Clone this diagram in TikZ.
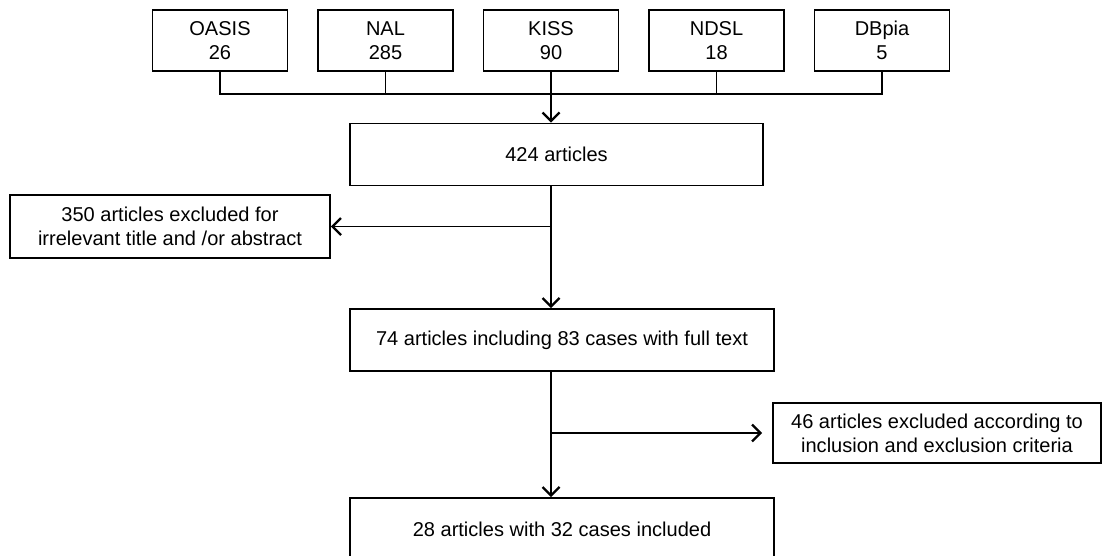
\documentclass[tikz,border=0pt]{standalone}
\usepackage{fontspec}
\setmainfont{Liberation Sans}
\usetikzlibrary{positioning,arrows.meta}

\begin{document}
\begin{tikzpicture}[
source/.style={draw, line width=1pt, minimum width=2.7cm, minimum height=1.22cm, align=center, inner sep=0pt},
stage/.style={draw, line width=1pt, minimum height=1.24cm, align=center, inner sep=0pt},
link/.style={line width=1pt},
arrow/.style={-{Straight Barb[length=1.7mm, width=3.4mm, line width=1.3pt]}, line width=1pt},
font=\fontsize{11.4}{13.5}\selectfont,
]
\useasboundingbox (0,0) rectangle (22.06,-11.1);
\clip (0,0) rectangle (22.06,-11.1);

\node[source] (oasis) at (4.40,-0.81) {OASIS\\26};
\node[source] (nal) [right=0.575cm of oasis] {NAL\\285};
\node[source] (kiss) [right=0.575cm of nal] {KISS\\90};
\node[source] (ndsl) [right=0.575cm of kiss] {NDSL\\18};
\node[source] (dbpia) [right=0.575cm of ndsl] {DBpia\\5};

\node[stage, minimum width=8.26cm] (total) at (11.13,-3.09) {424 articles};
\node[stage, minimum width=6.4cm, minimum height=1.26cm] (exclA) at (3.4,-4.53) {350 articles excluded for\\irrelevant title and /or abstract};
\node[stage, minimum width=8.48cm] (fulltext) at (11.24,-6.8) {74 articles including 83 cases with full text};
\node[stage, minimum width=6.56cm, minimum height=1.2cm] (exclB) at (18.74,-8.66) {46 articles excluded according to\\inclusion and exclusion criteria};
\node[stage, minimum width=8.48cm] (included) at (11.24,-10.58) {28 articles with 32 cases included};

\path (oasis.south) ++(0,-0.44) coordinate (busL);
\coordinate (busR) at (dbpia.south |- busL);

\draw[link] (oasis.south) -- (busL) -- (busR) -- (dbpia.south);
\draw[link] (nal.south) -- (nal.south |- busL);
\draw[link] (kiss.south) -- (kiss.south |- busL);
\draw[link] (ndsl.south) -- (ndsl.south |- busL);

\draw[arrow] (kiss.south |- busL) -- (kiss.south |- total.north);
\draw[arrow] (kiss.south |- total.south) -- (kiss.south |- fulltext.north);
\draw[arrow] (kiss.south |- exclA.east) -- (exclA.east);
\draw[arrow] (kiss.south |- fulltext.south) -- (kiss.south |- included.north);
\draw[arrow] (kiss.south |- exclB.west) -- ([xshift=-0.2cm]exclB.west);

\end{tikzpicture}
\end{document}
